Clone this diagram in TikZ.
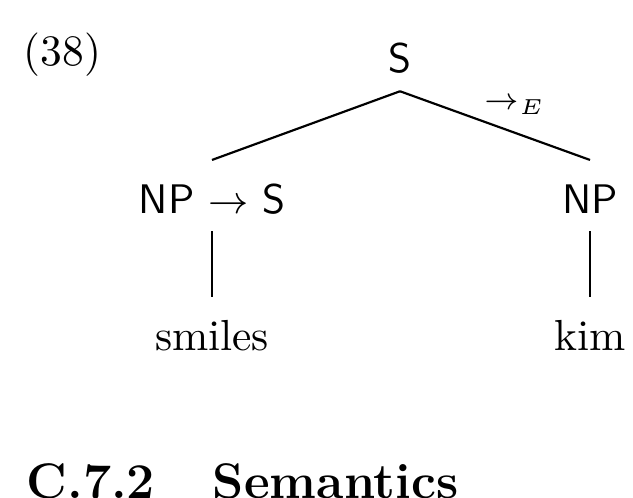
\documentclass[tikz,border=0pt]{standalone}
\usepackage{amsmath}
\tikzset{
  cat/.style      = { font=\fontsize{9.5}{11}\selectfont\sffamily, inner sep=4pt, text height=8pt, text depth=0pt, anchor=base },
  word/.style     = { cat, font=\rmfamily },
  ruletag/.style  = { font=\scriptsize, inner sep=0pt, anchor=base west },
  exnum/.style    = { inner sep=0pt, anchor=base west },
  heading/.style  = { font=\fontsize{11.5}{13}\selectfont\bfseries, inner sep=0pt, anchor=base west },
  branch/.style   = { line width=0.5pt },
}

\begin{document}
\begin{tikzpicture}[x=0.23pt,y=-0.23pt]
  \useasboundingbox (0,0) rectangle (633,497);

  \node (ex)       [exnum]   at (23,66)   {(38)};
  \node (root)     [cat]     at (400,73)  {S};
  \node (fun)      [cat]     at (212,213) {NP $\rightarrow$ S};
  \node (arg)      [cat]     at (590,213) {NP};
  \node (smiles)   [word]    at (212,350) {smiles};
  \node (kim)      [word]    at (590,350) {kim};
  \node (elim)     [ruletag] at (484,110) {$\rightarrow_E$};

  \node (secnum)   [heading] at (26,498)  {C.7.2};
  \node (sectitle) [heading] at (212,498) {Semantics};

  \draw [branch] (root.south) -- (fun.north);
  \draw [branch] (root.south) -- (arg.north);
  \draw [branch] (fun.south)  -- (smiles.north);
  \draw [branch] (arg.south)  -- (kim.north);

\end{tikzpicture}
\end{document}
